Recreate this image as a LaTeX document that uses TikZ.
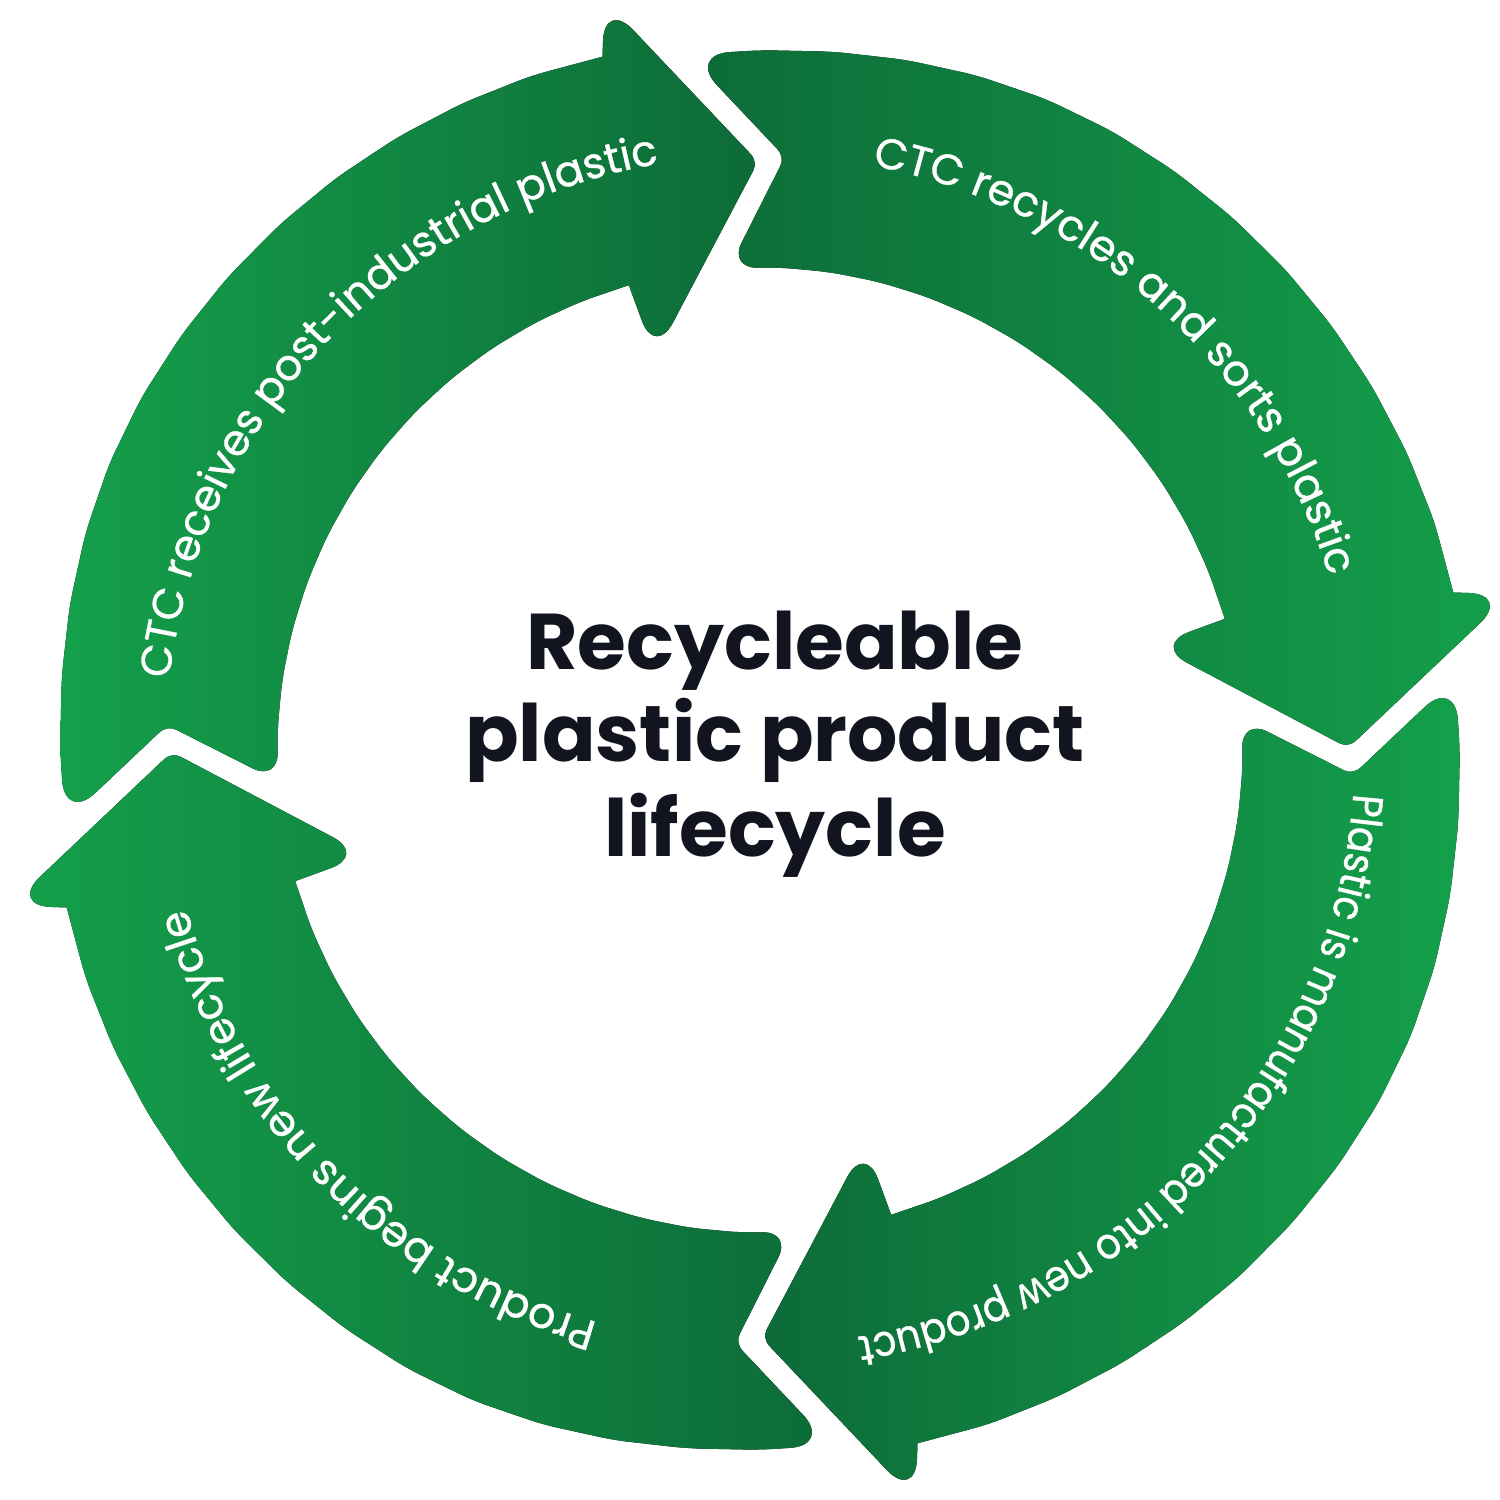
\documentclass[tikz,border=0pt]{standalone}
\usepackage{fontspec}
\setmainfont{Poppins}
\newfontfamily\lblfam{Poppins}[FakeBold=0.8]
\newfontfamily\lblfamc{Poppins}[FakeBold=0.8, FakeStretch=0.9]
\usetikzlibrary{decorations.text}
\definecolor{gdark}{HTML}{0D6B38}
\definecolor{glight}{HTML}{14A04B}
\definecolor{navy}{HTML}{12141F}
\newcommand{\lblfont}{\lblfam\fontsize{12.2}{14}\selectfont}
\newcommand{\lblfontc}{\lblfamc\fontsize{12.2}{14}\selectfont}
% one curved arrow; #1 = rotation offset in degrees
\newcommand{\arrowpath}[1]{%
  ({183.7+#1}:4.83)
  [rounded corners=0.1cm] -- ({177.6+#1}:5.935)
  [rounded corners=0.42cm] -- ({185.9+#1}:6.99)
  [rounded corners=0.15cm]
  \foreach \k in {1,...,13} { -- ({185.9-\k*83.1/14+#1}:{6.99+0.13*sin(min(90,(\k*83.1/14)*2.5))^2}) }
  [sharp corners] -- ({102.8+#1}:7.11)
  [rounded corners=0.42cm] -- ({101.72+#1}:7.665)
  [rounded corners=0.1cm] -- ({90.2+#1}:5.883)
  [rounded corners=0.38cm] -- ({104.94+#1}:4.072)
  [sharp corners] -- ({105.76+#1}:4.83)
  [rounded corners=0.15cm]
  \foreach \k in {1,...,12} { -- ({105.76+\k*77.94/13+#1}:4.83) }
  [rounded corners=0.28cm] -- cycle}
\tikzset{
  titletxt/.style={font=\bfseries\fontsize{22.5}{27}\selectfont, text=navy, inner sep=0pt, anchor=base},
  lbl/.style={decorate, decoration={text along path, text align=center, text color=white, text={|\lblfont|#1}}},
  lblc/.style={decorate, decoration={text along path, text align=center, text color=white, text={|\lblfontc|#1}}}
}
\begin{document}
\begin{tikzpicture}
\fill[white] (0,0) rectangle (15,15);
\useasboundingbox (0,0) rectangle (15,15);
\begin{scope}[shift={(7.6,7.5)}]
  % arrow 1: receives (left to top)
  \fill[left color=glight, right color=gdark] \arrowpath{0};
  % arrow 2: recycles (top to right)
  \fill[left color=gdark, right color=glight] \arrowpath{-90};
  % arrow 3: manufactured (right to bottom)
  \fill[left color=gdark, right color=glight] \arrowpath{-180};
  % arrow 4: new lifecycle (bottom to left)
  \fill[left color=glight, right color=gdark] \arrowpath{-270};

  \path[lbl={CTC receives post-industrial plastic}]
    (186.45:5.95) arc[start angle=186.45, end angle=86.45, radius=5.95];
  \path[lbl={CTC recycles and sorts plastic}]
    (98.05:5.95) arc[start angle=98.05, end angle=-1.95, radius=5.95];
  \path[lblc={Plastic is manufactured into new product}]
    (7.6:5.95) arc[start angle=7.6, end angle=-92.4, radius=5.95];
  \path[lbl={Product begins new lifecycle}]
    (274.8:5.95) arc[start angle=274.8, end angle=174.8, radius=5.95];
\end{scope}
\node[titletxt] (t1) at (7.75,8.30) {Recycleable};
\node[titletxt] (t2) at (7.75,7.38) {plastic product};
\node[titletxt] (t3) at (7.75,6.43) {lifecycle};
\end{tikzpicture}
\end{document}
